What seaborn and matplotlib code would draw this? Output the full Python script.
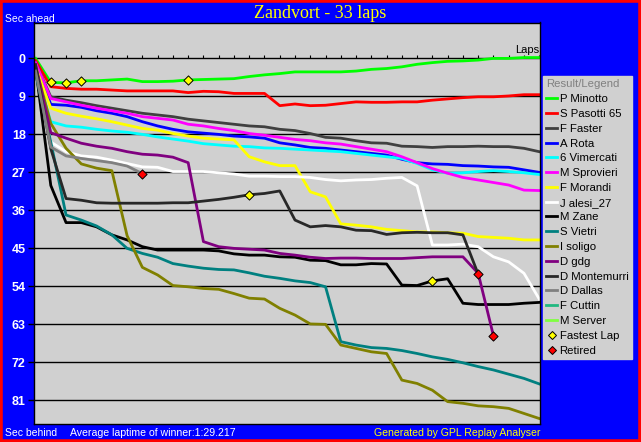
import pandas as pd
import seaborn as sns
import matplotlib.pyplot as plt
from matplotlib.lines import Line2D
from matplotlib.patches import Rectangle

# Drivers in finishing order (legend order) and their colours
drivers = ["P Minotto", "S Pasotti 65", "F Faster", "A Rota", "6 Vimercati",
           "M Sprovieri", "F Morandi", "J alesi_27", "M Zane", "S Vietri",
           "I soligo", "D gdg", "D Montemurri", "D Dallas", "F Cuttin", "M Server"]
colors = ["#00FF00", "#FF0000", "#404040", "#0000FF", "#00FFFF",
          "#FF00FF", "#FFFF00", "#FFFFFF", "#000000", "#008080",
          "#808000", "#800080", "#282828", "#808080", "#20B880", "#80FF40"]

# Seconds behind the winner's average pace, per lap (lap 0 .. last lap run)
minotto = [0, 5.7, 5.8, 5.3, 5.3, 5.1, 4.9, 5.5, 5.5, 5.4, 5.1, 5.0, 4.9, 4.8, 4.3, 3.9, 3.6,
           3.2, 3.2, 3.2, 3.2, 3.0, 2.6, 2.4, 2.0, 1.4, 1.0, 0.7, 0.6, 0.4, 0.0, 0.0, -0.2, -0.2]
pasotti = [0.5, 6.7, 7.1, 7.3, 7.3, 7.5, 7.7, 7.7, 7.7, 7.7, 8.1, 7.8, 7.9, 8.3, 8.3, 8.3, 11.2,
           10.8, 11.2, 11.1, 10.7, 10.3, 10.4, 10.4, 10.3, 10.3, 9.9, 9.6, 9.3, 9.1, 9.1, 8.9, 8.6, 8.6]
faster = [1.0, 9.1, 9.9, 10.5, 11.2, 11.8, 12.4, 13.0, 13.4, 13.8, 14.4, 14.8, 15.2, 15.6, 16.0, 16.2, 16.8,
          17.1, 17.8, 18.7, 18.9, 19.5, 20.0, 20.1, 20.8, 20.9, 21.1, 20.9, 20.9, 20.8, 20.9, 20.9, 21.3, 22.1]
rota = [1.5, 10.9, 11.1, 11.6, 12.4, 13.0, 13.8, 15.0, 16.0, 16.8, 17.4, 17.7, 18.0, 18.4, 18.6, 18.9, 20.0,
        20.5, 21.1, 21.3, 21.7, 22.1, 22.5, 22.9, 23.9, 24.7, 25.0, 25.1, 25.4, 25.5, 25.7, 25.8, 26.4, 27.0]
vimercati = [3.0, 15.0, 16.0, 16.3, 16.8, 17.2, 17.5, 18.0, 18.6, 19.1, 19.6, 20.2, 20.5, 20.8, 20.9, 21.2, 21.3,
             21.5, 21.7, 21.9, 22.1, 22.5, 22.9, 23.3, 23.7, 24.9, 26.4, 27.2, 27.1, 26.8, 26.6, 26.8, 27.1, 27.5]
sprovieri = [1.0, 9.5, 10.3, 11.1, 11.8, 12.4, 13.0, 13.8, 14.2, 14.6, 15.6, 16.0, 16.6, 17.1, 17.8, 18.2, 18.7,
             19.2, 19.5, 20.0, 20.3, 20.9, 21.5, 22.1, 23.3, 24.7, 26.1, 27.2, 28.2, 28.8, 29.4, 30.0, 31.2, 31.3]
morandi = [2.0, 11.8, 13.0, 13.7, 14.3, 15.0, 15.8, 16.6, 17.0, 17.8, 18.4, 18.9, 19.1, 19.3, 23.3, 24.5, 25.4,
           25.4, 31.6, 32.8, 39.2, 39.5, 39.9, 40.5, 40.8, 41.1, 41.1, 41.3, 41.4, 42.2, 42.4, 42.6, 43.0, 43.0]
alesi = [2.5, 19.8, 22.1, 23.1, 23.4, 24.1, 24.9, 25.7, 25.8, 26.8, 26.8, 26.8, 27.1, 27.4, 27.9, 27.9, 28.0,
         28.0, 28.2, 28.7, 29.0, 28.8, 28.7, 28.4, 28.2, 30.2, 44.2, 44.2, 44.0, 44.6, 47.0, 48.2, 50.9, 57.0]
zane = [2.0, 30.1, 38.9, 38.9, 39.9, 41.8, 43.0, 44.6, 45.4, 45.4, 45.4, 45.4, 45.6, 46.3, 46.6, 46.6, 47.0,
        47.1, 47.8, 47.9, 48.9, 48.9, 48.6, 48.7, 53.7, 53.8, 52.7, 52.2, 58.0, 58.3, 58.3, 58.3, 58.0, 57.8]
vietri = [3.5, 19.8, 37.1, 38.3, 39.7, 41.8, 45.0, 46.2, 47.1, 48.6, 49.2, 49.7, 50.0, 50.1, 50.8, 51.6, 52.1,
          52.7, 53.1, 54.1, 67.1, 67.9, 68.5, 68.7, 69.2, 69.9, 70.7, 71.3, 72.1, 73.0, 73.8, 74.8, 75.8, 77.1]
soligo = [2.0, 15.4, 21.3, 25.0, 26.0, 26.6, 42.0, 49.5, 51.3, 53.8, 54.1, 54.5, 54.7, 55.7, 56.8, 57.0, 59.2,
          60.8, 62.9, 63.0, 67.9, 68.7, 69.5, 69.9, 76.2, 77.0, 78.6, 81.3, 81.7, 82.3, 82.5, 82.9, 84.1, 85.3]
gdg = [1.5, 17.6, 18.9, 20.1, 20.8, 21.3, 22.1, 22.7, 22.9, 23.4, 24.7, 43.4, 44.6, 45.0, 45.2, 45.4, 46.2,
       46.6, 47.1, 47.4, 47.3, 47.3, 47.4, 47.4, 47.4, 47.2, 47.0, 47.0, 47.0, 50.9, 65.7]
montemurri = [1.5, 21.4, 33.2, 33.6, 34.2, 34.3, 34.3, 34.3, 34.3, 34.2, 34.2, 33.8, 33.4, 32.9, 32.3, 32.0, 31.4,
              38.3, 39.9, 39.6, 39.9, 40.7, 40.8, 41.7, 41.3, 41.2, 41.3, 41.3, 41.8, 51.1]
dallas = [3.0, 21.0, 23.1, 23.7, 24.2, 24.7, 25.5, 27.3]
cuttin = []
server = []

gaps = {"P Minotto": minotto, "S Pasotti 65": pasotti, "F Faster": faster, "A Rota": rota,
        "6 Vimercati": vimercati, "M Sprovieri": sprovieri, "F Morandi": morandi,
        "J alesi_27": alesi, "M Zane": zane, "S Vietri": vietri, "I soligo": soligo,
        "D gdg": gdg, "D Montemurri": montemurri, "D Dallas": dallas,
        "F Cuttin": cuttin, "M Server": server}

fastest_laps = [("P Minotto", 1), ("P Minotto", 2), ("P Minotto", 3), ("P Minotto", 10),
                ("D Montemurri", 14), ("M Zane", 26)]
retired = ["D Dallas", "D Montemurri", "D gdg"]

BLUE = "#0000FF"
GREY = "#D0D0D0"

rows = [(name, lap, v) for name in drivers for lap, v in enumerate(gaps[name])]
df = pd.DataFrame(rows, columns=["driver", "lap", "gap"])
palette = {d: c for d, c in zip(drivers, colors) if len(gaps[d])}

fig = plt.figure(figsize=(6.41, 4.42), dpi=100, facecolor=BLUE)
ax = fig.add_axes([34 / 641, 1 - 424 / 442, 506 / 641, 401.5 / 442])
ax.set_facecolor(GREY)

# grid lines and lap ticks on the zero line
ax.set_yticks(range(0, 82, 9))
ax.grid(axis="y", color="black", lw=1.0)
ax.set_axisbelow(True)
ax.vlines(range(1, 34), -0.8, 0, color="black", lw=0.8)

sns.lineplot(data=df, x="lap", y="gap", hue="driver", palette=palette,
             estimator=None, sort=False, lw=2.0, legend=False, ax=ax)

fl = pd.DataFrame([(lap, gaps[d][lap]) for d, lap in fastest_laps], columns=["lap", "gap"])
rt = pd.DataFrame([(len(gaps[d]) - 1, gaps[d][-1]) for d in retired], columns=["lap", "gap"])
sns.scatterplot(data=fl, x="lap", y="gap", marker="D", s=22, color="#FFFF00",
                edgecolor="black", linewidth=0.7, zorder=5, ax=ax)
sns.scatterplot(data=rt, x="lap", y="gap", marker="D", s=22, color="#FF0000",
                edgecolor="black", linewidth=0.7, zorder=5, ax=ax)

ax.set_xlim(-0.1, 33.05)
ax.set_ylim(86.6, -8.5)
ax.set_xlabel("")
ax.set_ylabel("")
ax.set_xticks([])
ax.tick_params(axis="y", colors="black", length=4, width=1, pad=2)
for lbl in ax.get_yticklabels():
    lbl.set_color("white")
    lbl.set_fontweight("bold")
    lbl.set_fontsize(9)
    lbl.set_family("Liberation Sans")
for sp in ax.spines.values():
    sp.set_color("black")
    sp.set_linewidth(1)

ax.text(33, -0.9, "Laps", ha="right", va="bottom", fontsize=8, family="Liberation Sans")

# texts around the chart
fig.text(320 / 641, 1 - 13 / 442, "Zandvort - 33 laps", color="#FFFF00", fontsize=13,
         family="Liberation Serif", ha="center", va="center")
fig.text(5 / 641, 1 - 19 / 442, "Sec ahead", color="white", fontsize=7.5,
         family="Liberation Sans", va="center")
fig.text(5 / 641, 1 - 433 / 442, "Sec behind", color="white", fontsize=7.5,
         family="Liberation Sans", va="center")
fig.text(70 / 641, 1 - 433 / 442, "Average laptime of winner:1:29.217", color="white",
         fontsize=7.6, family="Liberation Sans", va="center")
fig.text(540 / 641, 1 - 433 / 442, "Generated by GPL Replay Analyser", color="#FFFF00",
         fontsize=7.6, family="Liberation Sans", va="center", ha="right")

# legend
handles = [Line2D([], [], color=c, lw=2) for c in colors]
handles += [Line2D([], [], ls="none", marker="D", ms=4.5, mfc="#FFFF00", mec="black", mew=0.7),
            Line2D([], [], ls="none", marker="D", ms=4.5, mfc="#FF0000", mec="black", mew=0.7)]
labels = drivers + ["Fastest Lap", "Retired"]
leg = fig.legend(handles, labels, loc="upper left", bbox_to_anchor=(543 / 641, 1 - 76 / 442),
                 title="Result/Legend", alignment="left", frameon=True, fancybox=False,
                 facecolor=GREY, edgecolor=GREY, framealpha=1, borderaxespad=0,
                 prop={"family": "Liberation Sans", "size": 8.2},
                 title_fontproperties={"family": "Liberation Sans", "size": 8.2},
                 handlelength=0.9, handletextpad=0.25, labelspacing=0.42,
                 borderpad=0.3)
leg.get_title().set_color("#808080")

fig.add_artist(Rectangle((0, 0), 1, 1, transform=fig.transFigure, fill=False,
                         edgecolor="red", lw=4))

fig.savefig("out.png", dpi=100, facecolor=BLUE)
